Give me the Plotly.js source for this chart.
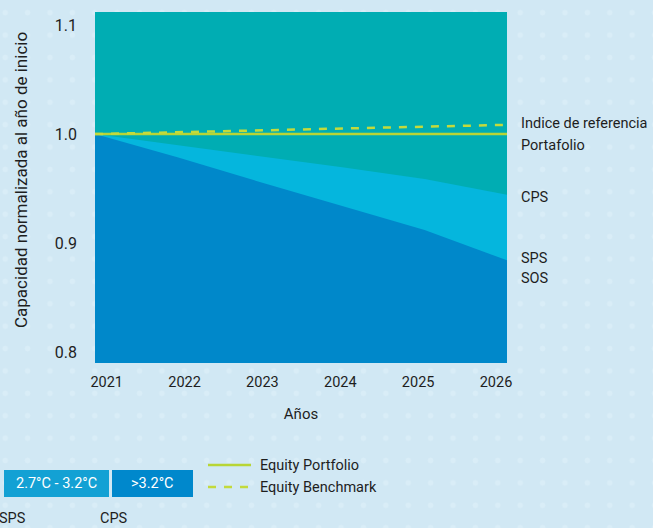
<!DOCTYPE html>
<html>
<head>
<meta charset="utf-8">
<script src="https://cdn.plot.ly/plotly-3.0.1.min.js"></script>
<style>
  html, body { margin: 0; padding: 0; }
  body {
    width: 653px; height: 528px; overflow: hidden;
    background-color: #d1e8f4;
    background-image: radial-gradient(circle, #d9edf7 2.4px, rgba(217,237,247,0) 3.2px);
    background-size: 22.4px 22.4px;
    background-position: -6px 1.5px;
  }
  #chart { width: 653px; height: 528px; }
</style>
</head>
<body>
<div id="chart"></div>
<script>
// Capacity, normalised to the start year, by pathway
const years = [2021, 2022, 2023, 2024, 2025, 2026];
const yearLabels = ['2021', '2022', '2023', '2024', '2025', '2026'];
const sosTop = [1.000, 0.9788, 0.9561, 0.9342, 0.9120, 0.8842];   // >3.2°C
const spsTop = [1.000, 0.9899, 0.9798, 0.9696, 0.9589, 0.9444];   // 2.7°C - 3.2°C
const portfolio = [1.000, 1.000, 1.000, 1.000, 1.000, 1.000];
const benchmark = [1.000, 1.0017, 1.0034, 1.0051, 1.0068, 1.0085];
const yTicks = [0.8, 0.9, 1.0, 1.1];

const C = {
  cps: '#00adb3',
  sps: '#05b6dd',
  sos: '#0088ca',
  legendSps: '#13a1d4',
  legendSos: '#0088cc',
  line: '#b8d535',
  dash: '#c3da3c',
  text: '#1e1e1e'
};
const FONT = 'Roboto, "Noto Sans", Arial, sans-serif';

// plot box in pixels
const W = 653, H = 528;
const M = { l: 95, r: 146, t: 12, b: 165 };
const pw = W - M.l - M.r, ph = H - M.t - M.b;
const px = x => (x - M.l) / pw;
const py = y => (H - M.b - y) / ph;

// label axis sits slightly inside the area's edges
const padL = 0.150, padR = 0.141;

const traces = [
  { x: years, y: spsTop, type: 'scatter', mode: 'lines', fill: 'tozeroy',
    fillcolor: C.sps, line: { width: 0, color: C.sps }, hoverinfo: 'skip', showlegend: false },
  { x: years, y: sosTop, type: 'scatter', mode: 'lines', fill: 'tozeroy',
    fillcolor: C.sos, line: { width: 0, color: C.sos }, hoverinfo: 'skip', showlegend: false },
  { x: years, y: portfolio, type: 'scatter', mode: 'lines',
    line: { color: C.line, width: 2.5 }, hoverinfo: 'skip', showlegend: false },
  { x: years, y: benchmark, type: 'scatter', mode: 'lines',
    line: { color: C.dash, width: 2.5, dash: '8px,8px' }, hoverinfo: 'skip', showlegend: false },
  // carries the year labels
  { x: years, y: years.map(() => null), xaxis: 'x2', type: 'scatter', mode: 'lines',
    hoverinfo: 'skip', showlegend: false }
];

const last = a => a[a.length - 1];
const sideLabel = (text, y, yshift) => ({
  text, xref: 'paper', yref: 'y', x: 1, y, xanchor: 'left', yanchor: 'middle',
  xshift: 12, yshift, showarrow: false, font: { family: FONT, size: 14.5, color: C.text }
});

const annotations = [
  sideLabel('Indice de referencia', last(benchmark), 1),
  sideLabel('Portafolio', last(portfolio), -11),
  sideLabel('CPS', last(spsTop), -3),
  sideLabel('SPS', last(sosTop), 2),
  sideLabel('SOS', last(sosTop), -18),
  // vertical axis title
  { text: 'Capacidad normalizada al año de inicio', xref: 'paper', yref: 'paper',
    x: px(21), y: py(180), xanchor: 'center', yanchor: 'middle', textangle: -90,
    showarrow: false, font: { family: FONT, size: 17, color: C.text } }
];

const shapes = [];
// pathway boxes
const boxes = [
  { x0: 4, x1: 109, color: C.legendSps, text: '2.7°C - 3.2°C', tag: 'SPS', tagX: 12 },
  { x0: 112, x1: 193, color: C.legendSos, text: '>3.2°C', tag: 'CPS', tagX: 114 }
];
boxes.forEach(b => {
  shapes.push({ type: 'rect', xref: 'paper', yref: 'paper',
    x0: px(b.x0), x1: px(b.x1), y0: py(497), y1: py(470),
    fillcolor: b.color, line: { width: 0 }, layer: 'above' });
  annotations.push({ text: b.text, xref: 'paper', yref: 'paper',
    x: px((b.x0 + b.x1) / 2), y: py(483.5), xanchor: 'center', yanchor: 'middle',
    showarrow: false, font: { family: FONT, size: 14.5, color: '#ffffff' } });
  annotations.push({ text: b.tag, xref: 'paper', yref: 'paper',
    x: px(b.tagX), y: py(518), xanchor: 'center', yanchor: 'middle',
    showarrow: false, font: { family: FONT, size: 14.5, color: C.text } });
});
// line key
[
  { y: 465, dash: 'solid', color: C.line, text: 'Equity Portfolio' },
  { y: 487, dash: '8px,8px', color: C.dash, text: 'Equity Benchmark' }
].forEach(k => {
  shapes.push({ type: 'line', xref: 'paper', yref: 'paper',
    x0: px(208), x1: px(251), y0: py(k.y), y1: py(k.y),
    line: { color: k.color, width: 2.5, dash: k.dash } });
  annotations.push({ text: k.text, xref: 'paper', yref: 'paper',
    x: px(258), y: py(k.y), xanchor: 'left', yanchor: 'middle',
    showarrow: false, font: { family: FONT, size: 14.5, color: C.text } });
});

const layout = {
  width: W, height: H,
  margin: M,
  paper_bgcolor: 'rgba(0,0,0,0)',
  plot_bgcolor: C.cps,
  font: { family: FONT, size: 14, color: C.text },
  showlegend: false,
  xaxis: {
    range: [years[0], last(years)], visible: false, fixedrange: true
  },
  xaxis2: {
    overlaying: 'x', side: 'bottom',
    range: [years[0] - padL, last(years) + padR],
    tickvals: years, ticktext: yearLabels,
    ticks: '', showgrid: false, zeroline: false, showline: false,
    ticklabelstandoff: 8,
    tickfont: { family: FONT, size: 14.5, color: C.text },
    title: { text: 'Años', standoff: 18, font: { family: FONT, size: 15, color: C.text } },
    automargin: false, fixedrange: true
  },
  yaxis: {
    range: [0.790, 1.112],
    tickvals: yTicks, tickformat: '.1f',
    ticks: '', showgrid: false, zeroline: false, showline: false,
    ticklabelstandoff: 17,
    tickfont: { family: FONT, size: 16, color: C.text },
    automargin: false, fixedrange: true
  },
  shapes, annotations
};

Plotly.newPlot('chart', traces, layout, { displayModeBar: false, staticPlot: true });
</script>
</body>
</html>
